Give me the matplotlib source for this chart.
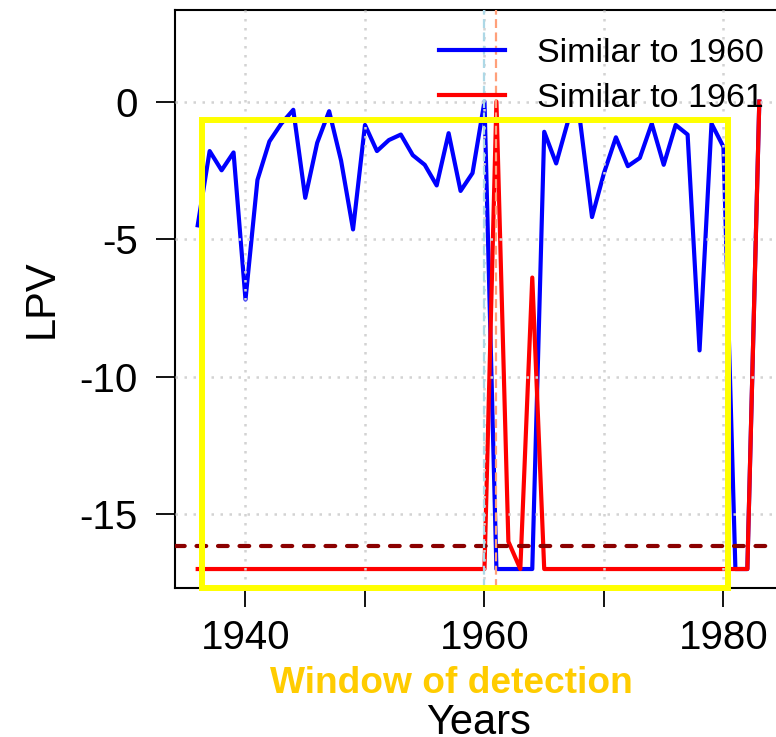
import numpy as np
import matplotlib
matplotlib.use('Agg')
import matplotlib.pyplot as plt
from matplotlib.patches import Rectangle

plt.rcParams['font.family'] = ['Liberation Sans', 'DejaVu Sans']

years = np.arange(1936, 1984)
lpv_1960 = [-4.5, -1.8, -2.5, -1.85, -7.2, -2.85, -1.45, -0.8, -0.3, -3.5,
            -1.5, -0.35, -2.15, -4.65, -0.85, -1.8, -1.4, -1.2, -1.95, -2.3,
            -3.05, -1.15, -3.25, -2.6, 0.0, -17, -17, -17, -17, -1.1,
            -2.25, -0.7, -0.7, -4.2, -2.6, -1.3, -2.35, -2.05, -0.8, -2.3,
            -0.85, -1.2, -9.05, -0.8, -1.65, -17, -17, 0.0]
lpv_1961 = [-17] * 24 + [-17, 0.0, -16.0, -17, -6.4, -17] + [-17] * 17 + [0.0]

threshold = -16.15
target_years = [1960, 1961]
window = (1936.4, 1980.4, -17.7, -0.66)  # x0, x1, y0, y1
xticks = [1940, 1950, 1960, 1970, 1980]
xlabels = ['1940', '', '1960', '', '1980']
yticks = [0, -5, -10, -15]

fig = plt.figure(figsize=(7.76, 7.37), dpi=100)
ax = fig.add_axes([175 / 776, 149 / 737, 607 / 776, 578 / 737])

ax.plot(years, lpv_1960, color='#0000FF', lw=3, label='Similar to 1960', zorder=2)
ax.plot(years, lpv_1961, color='#FF0000', lw=3, label='Similar to 1961', zorder=2)

ax.set_xlim(1934.1, 1984.9)
ax.set_ylim(-17.69, 3.33)
ax.set_xticks(xticks)
ax.set_xticklabels(xlabels)
ax.set_yticks(yticks)
ax.set_yticklabels([str(v) for v in yticks])
ax.tick_params(axis='both', labelsize=29, length=14, width=1.3, direction='out')
ax.tick_params(axis='x', pad=8)
ax.tick_params(axis='y', pad=13)
for s in ax.spines.values():
    s.set_linewidth(1.5)

ax.grid(True, color='#D3D3D3', lw=1.8, linestyle=(0, (1, 2.6)), zorder=3)
ax.set_axisbelow(False)

ax.axhline(threshold, color='#8B0000', lw=3, dashes=(2.33, 2.83),
           dash_capstyle='round', zorder=4)
ax.axvline(target_years[0], color='#ADD8E6', lw=1.6, linestyle=(0, (4, 2)), zorder=4)
ax.axvline(target_years[1], color='#FFA07A', lw=1.6, linestyle=(0, (4, 2)), zorder=4)

ax.add_patch(Rectangle((window[0], window[2]), window[1] - window[0], window[3] - window[2],
                       fill=False, edgecolor='#FFFF00', lw=4.3, clip_on=False, zorder=5))

ax.legend(loc='upper left', bbox_to_anchor=(439 / 776, 1 - 38 / 737),
          bbox_transform=fig.transFigure, frameon=False, fontsize=24.5,
          handlelength=1.94, handletextpad=0.94, labelspacing=0.4,
          borderpad=0, borderaxespad=0)

fig.text(42 / 776, 1 - 299 / 737, 'LPV', rotation=90, fontsize=30,
         ha='center', va='center')
fig.text(451 / 776, 1 - 693 / 737, 'Window of detection', fontsize=26.7,
         fontweight='bold', color='#FFCC00', ha='center', va='baseline')
fig.text(479 / 776, 1 - 734 / 737, 'Years', fontsize=30, ha='center', va='baseline')

fig.savefig('out.png', dpi=100)
